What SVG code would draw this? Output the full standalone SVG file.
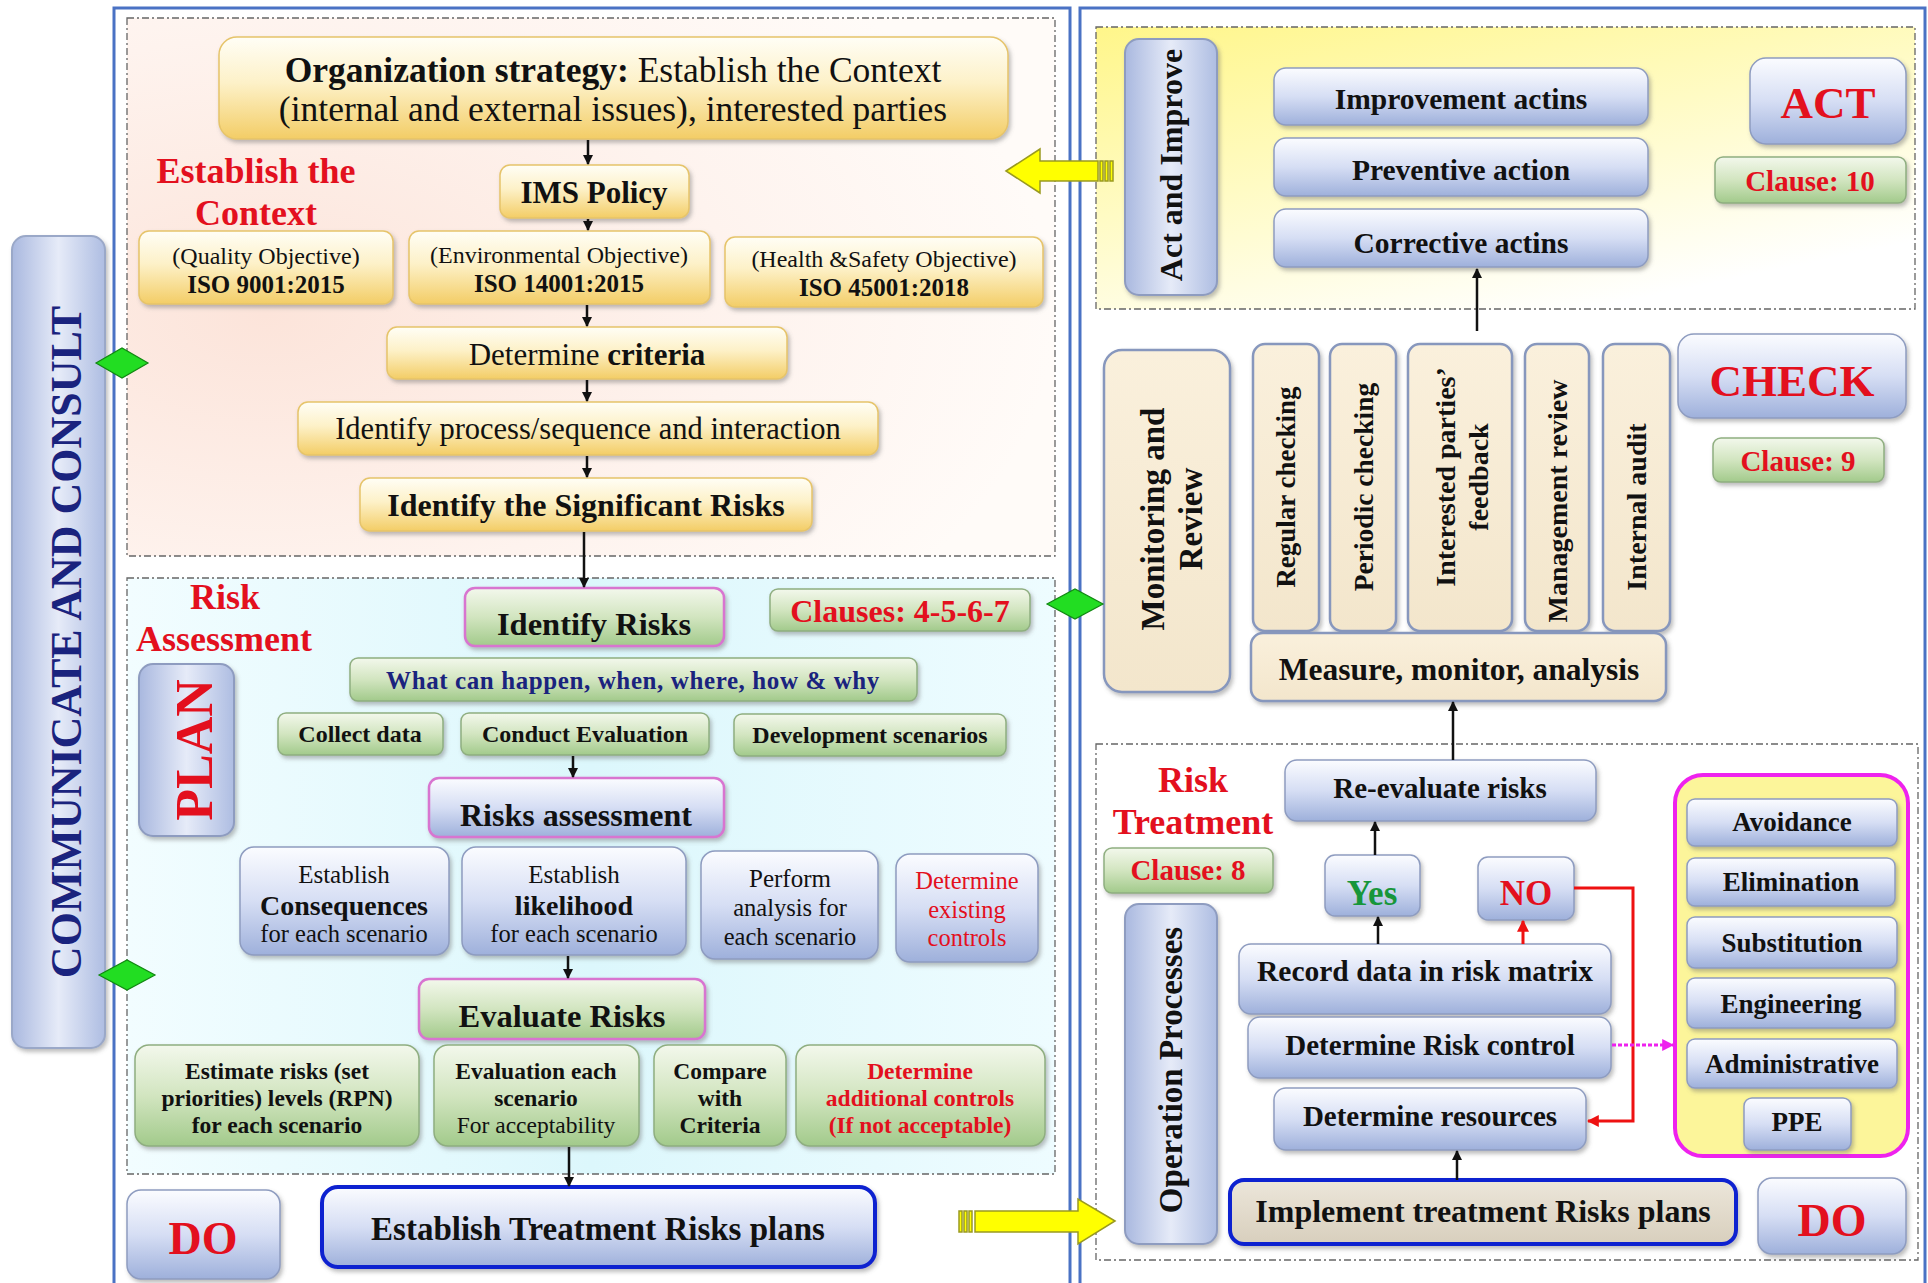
<svg xmlns="http://www.w3.org/2000/svg" width="1928" height="1283" viewBox="0 0 1928 1283">
<defs>
<style>
text{font-family:"Liberation Serif","Times New Roman",serif;text-anchor:middle;dominant-baseline:central;fill:#111;}
.b{font-weight:bold}
.red{fill:#e3101e}
.navy{fill:#1a237e}
.grn{fill:#17963a}
.yb{fill:url(#gY);stroke:#e6c46a;stroke-width:1.5;filter:url(#sh)}
.gb{fill:url(#gG);stroke:#8fae80;stroke-width:1.5;filter:url(#sh)}
.bb{fill:url(#gB);stroke:#8e9cc0;stroke-width:1.5;filter:url(#sh)}
.cb{fill:url(#gC);stroke:#8797bd;stroke-width:2.5;filter:url(#sh)}
.mag{stroke:#d874d0;stroke-width:2.5}
.thick{stroke:#1020d0;stroke-width:4}
.dash{fill:none;stroke:#666;stroke-width:1.3;stroke-dasharray:7 3 2 3}
.conn{stroke:#111;stroke-width:2.5;fill:none;marker-end:url(#ah)}
.rconn{stroke:#ee1111;stroke-width:3;fill:none;marker-end:url(#ahr)}
.yarrow{fill:#ffff00;stroke:#9a9a20;stroke-width:1.5}
</style>
<filter id="sh" x="-10%" y="-10%" width="125%" height="135%">
<feDropShadow dx="2" dy="3" stdDeviation="2" flood-color="#6a6a6a" flood-opacity="0.45"/>
</filter>
<linearGradient id="gY" x1="0" y1="0" x2="0" y2="1">
<stop offset="0" stop-color="#fffef6"/><stop offset="0.45" stop-color="#fdf1c8"/><stop offset="1" stop-color="#f3cd66"/>
</linearGradient>
<linearGradient id="gG" x1="0" y1="0" x2="0" y2="1">
<stop offset="0" stop-color="#f3f8ec"/><stop offset="0.5" stop-color="#d2e5c0"/><stop offset="1" stop-color="#a2ca8b"/>
</linearGradient>
<linearGradient id="gB" x1="0" y1="0" x2="0" y2="1">
<stop offset="0" stop-color="#fbfcff"/><stop offset="0.5" stop-color="#d6def4"/><stop offset="1" stop-color="#9eb0db"/>
</linearGradient>
<linearGradient id="gBh" x1="0" y1="0" x2="1" y2="0">
<stop offset="0" stop-color="#a9b8df"/><stop offset="0.5" stop-color="#e6ebf8"/><stop offset="1" stop-color="#aebde2"/>
</linearGradient>
<linearGradient id="gC" x1="0" y1="0" x2="0" y2="1">
<stop offset="0" stop-color="#faf0dc"/><stop offset="1" stop-color="#f3e6cc"/>
</linearGradient>
<linearGradient id="gT" x1="0" y1="0" x2="0" y2="1">
<stop offset="0" stop-color="#ece6da"/><stop offset="1" stop-color="#d8cfbd"/>
</linearGradient>
<radialGradient id="gPeach" cx="0.15" cy="0.55" r="0.85">
<stop offset="0" stop-color="#fce4da"/><stop offset="0.6" stop-color="#fef3ee"/><stop offset="1" stop-color="#fffbf8"/>
</radialGradient>
<linearGradient id="gCyan" x1="0" y1="0" x2="1" y2="0">
<stop offset="0" stop-color="#f2fdff"/><stop offset="0.5" stop-color="#dcf7fc"/><stop offset="1" stop-color="#eefcff"/>
</linearGradient>
<linearGradient id="gAct" x1="0" y1="0" x2="0.6" y2="1">
<stop offset="0" stop-color="#fff68a"/><stop offset="0.5" stop-color="#fffbc4"/><stop offset="1" stop-color="#ffffff"/>
</linearGradient>
<marker id="ah" viewBox="0 0 10 10" refX="9" refY="5" markerWidth="4" markerHeight="4" orient="auto">
<path d="M0,0 L10,5 L0,10 z" fill="#111"/>
</marker>
<marker id="ahr" viewBox="0 0 10 10" refX="9" refY="5" markerWidth="4" markerHeight="4" orient="auto">
<path d="M0,0 L10,5 L0,10 z" fill="#ee1111"/>
</marker>
<marker id="ahm" viewBox="0 0 10 10" refX="9" refY="5" markerWidth="4" markerHeight="4" orient="auto">
<path d="M0,0 L10,5 L0,10 z" fill="#ee22ee"/>
</marker>
</defs>

<rect width="1928" height="1283" fill="#ffffff"/>

<!-- panels -->
<g id="panels">
<rect x="114" y="8" width="956" height="1290" fill="#ffffff" stroke="#4a72c4" stroke-width="3"/>
<rect x="1080" y="8" width="845" height="1290" fill="#ffffff" stroke="#4a72c4" stroke-width="3"/>
<rect x="127" y="18" width="928" height="538" fill="url(#gPeach)"/>
<rect x="127" y="18" width="928" height="538" class="dash"/>
<rect x="127" y="578" width="928" height="596" fill="url(#gCyan)"/>
<rect x="127" y="578" width="928" height="596" class="dash"/>
<rect x="1096" y="27" width="819" height="282" fill="url(#gAct)"/>
<rect x="1096" y="27" width="819" height="282" class="dash"/>
<rect x="1096" y="744" width="822" height="516" class="dash"/>
</g>

<!-- communicate -->
<g id="communicate">
<rect x="12" y="236" width="93" height="812" rx="14" fill="url(#gBh)" stroke="#9aa8c8" stroke-width="2" filter="url(#sh)"/>
<text class="b navy" font-size="44" transform="translate(66,642) rotate(-90)">COMMUNICATE AND CONSULT</text>
</g>

<!-- establish context -->
<g id="org">
<rect class="yb" x="219" y="37" width="789" height="102" rx="18"/>
<text font-size="35.5" x="613" y="70"><tspan class="b">Organization strategy:</tspan> Establish the Context</text>
<text font-size="35.5" x="613" y="109">(internal and external issues), interested parties</text>
</g>
<g id="ctx-label">
<text class="b red" font-size="36" x="256" y="171">Establish the</text>
<text class="b red" font-size="36" x="256" y="213">Context</text>
</g>
<g id="ims"><rect class="yb" x="500" y="165" width="189" height="53" rx="10"/><text class="b" font-size="31" x="594" y="192">IMS Policy</text></g>
<g id="quality"><rect class="yb" x="139" y="231" width="254" height="73" rx="10"/><text font-size="24" x="266" y="256">(Quality Objective)</text><text class="b" font-size="25" x="266" y="284">ISO 9001:2015</text></g>
<g id="env"><rect class="yb" x="409" y="231" width="301" height="73" rx="10"/><text font-size="24" x="559" y="255">(Environmental Objective)</text><text class="b" font-size="25" x="559" y="283">ISO 14001:2015</text></g>
<g id="hs"><rect class="yb" x="725" y="237" width="318" height="70" rx="10"/><text font-size="24" x="884" y="259">(Health &amp;Safety Objective)</text><text class="b" font-size="25" x="884" y="287">ISO 45001:2018</text></g>
<g id="criteria"><rect class="yb" x="387" y="327" width="400" height="52" rx="10"/><text font-size="31" x="587" y="354">Determine <tspan class="b">criteria</tspan></text></g>
<g id="process"><rect class="yb" x="298" y="402" width="580" height="53" rx="10"/><text font-size="30.5" x="588" y="429">Identify process/sequence and interaction</text></g>
<g id="significant"><rect class="yb" x="360" y="478" width="452" height="53" rx="10"/><text class="b" font-size="32" x="586" y="505">Identify the Significant Risks</text></g>

<!-- risk assessment -->
<g id="ra-label">
<text class="b red" font-size="36" x="225" y="597">Risk</text>
<text class="b red" font-size="36" x="224" y="639">Assessment</text>
</g>
<g id="plan"><rect x="139" y="664" width="95" height="172" rx="14" fill="url(#gBh)" stroke="#8e9cc0" stroke-width="2" filter="url(#sh)"/><text class="b red" font-size="52" transform="translate(194,750) rotate(-90)">PLAN</text></g>
<g id="identify-risks"><rect class="gb mag" x="465" y="588" width="259" height="58" rx="10"/><text class="b" font-size="32.5" x="594" y="624">Identify Risks</text></g>
<g id="clauses47"><rect class="gb" x="770" y="589" width="260" height="42" rx="8"/><text class="b red" font-size="32" x="900" y="611">Clauses: 4-5-6-7</text></g>
<g id="what"><rect class="gb" x="350" y="658" width="567" height="43" rx="8"/><text class="b navy" font-size="25" letter-spacing="0.6" x="633" y="680">What can happen, when, where, how &amp; why</text></g>
<g id="collect"><rect class="gb" x="278" y="713" width="165" height="42" rx="8"/><text class="b" font-size="24" x="360" y="734">Collect data</text></g>
<g id="conduct"><rect class="gb" x="461" y="713" width="248" height="42" rx="8"/><text class="b" font-size="24" x="585" y="734">Conduct Evaluation</text></g>
<g id="development"><rect class="gb" x="734" y="714" width="272" height="42" rx="8"/><text class="b" font-size="24" x="870" y="735">Development scenarios</text></g>
<g id="risks-assessment"><rect class="bb mag" x="429" y="778" width="295" height="59" rx="10"/><text class="b" font-size="32" x="576" y="815">Risks assessment</text></g>
<g id="consequences"><rect class="bb" x="240" y="847" width="209" height="108" rx="14"/><text font-size="25" x="344" y="874">Establish</text><text class="b" font-size="28" x="344" y="905">Consequences</text><text font-size="24.5" x="344" y="933">for each scenario</text></g>
<g id="likelihood"><rect class="bb" x="462" y="847" width="224" height="108" rx="14"/><text font-size="25" x="574" y="874">Establish</text><text class="b" font-size="28" x="574" y="905">likelihood</text><text font-size="24.5" x="574" y="933">for each scenario</text></g>
<g id="perform"><rect class="bb" x="701" y="851" width="177" height="108" rx="14"/><text font-size="25" x="790" y="878">Perform</text><text font-size="24.5" x="790" y="907">analysis for</text><text font-size="24.5" x="790" y="936">each scenario</text></g>
<g id="existing"><rect class="bb" x="896" y="854" width="142" height="108" rx="14"/><text class="red" font-size="24.5" x="967" y="880">Determine</text><text class="red" font-size="24.5" x="967" y="909">existing</text><text class="red" font-size="24.5" x="967" y="937">controls</text></g>
<g id="evaluate"><rect class="gb mag" x="419" y="979" width="286" height="60" rx="10"/><text class="b" font-size="32.5" x="562" y="1016">Evaluate Risks</text></g>
<g id="estimate"><rect class="gb" x="135" y="1045" width="284" height="101" rx="14"/><text class="b" font-size="23.5" x="277" y="1071">Estimate risks (set</text><text class="b" font-size="23.5" x="277" y="1098">priorities) levels (RPN)</text><text class="b" font-size="23.5" x="277" y="1125">for each scenario</text></g>
<g id="evaluation"><rect class="gb" x="434" y="1045" width="205" height="101" rx="14"/><text class="b" font-size="23.5" x="536" y="1071">Evaluation each</text><text class="b" font-size="23.5" x="536" y="1098">scenario</text><text font-size="23.5" x="536" y="1125">For acceptability</text></g>
<g id="compare"><rect class="gb" x="654" y="1045" width="132" height="101" rx="14"/><text class="b" font-size="23.5" x="720" y="1071">Compare</text><text class="b" font-size="23.5" x="720" y="1098">with</text><text class="b" font-size="23.5" x="720" y="1125">Criteria</text></g>
<g id="additional"><rect class="gb" x="796" y="1045" width="249" height="101" rx="14"/><text class="b red" font-size="23.5" x="920" y="1071">Determine</text><text class="b red" font-size="23.5" x="920" y="1098">additional controls</text><text class="b red" font-size="23.5" x="920" y="1125">(If not acceptable)</text></g>
<g id="do-left"><rect class="bb" x="127" y="1190" width="153" height="89" rx="14"/><text class="b red" font-size="46" x="203" y="1238">DO</text></g>
<g id="establish-treatment"><rect class="bb thick" x="322" y="1187" width="553" height="80" rx="16"/><text class="b" font-size="33" x="598" y="1229">Establish Treatment Risks plans</text></g>

<!-- ACT -->
<g id="act-improve"><rect x="1125" y="39" width="92" height="256" rx="14" fill="url(#gBh)" stroke="#8e9cc0" stroke-width="2" filter="url(#sh)"/><text class="b" font-size="32" transform="translate(1171,165) rotate(-90)">Act and Improve</text></g>
<g id="improvement"><rect class="bb" x="1274" y="68" width="374" height="57" rx="12"/><text class="b" font-size="29.5" x="1461" y="99">Improvement actins</text></g>
<g id="preventive"><rect class="bb" x="1274" y="138" width="374" height="58" rx="12"/><text class="b" font-size="29.5" x="1461" y="170">Preventive action</text></g>
<g id="corrective"><rect class="bb" x="1274" y="209" width="374" height="58" rx="12"/><text class="b" font-size="29.5" x="1461" y="243">Corrective actins</text></g>
<g id="act"><rect class="bb" x="1750" y="58" width="156" height="86" rx="16" stroke-width="3"/><text class="b red" font-size="45" x="1828" y="103">ACT</text></g>
<g id="clause10"><rect class="gb" x="1715" y="157" width="191" height="46" rx="8"/><text class="b red" font-size="29" x="1810" y="181">Clause: 10</text></g>

<!-- CHECK -->
<g id="monitoring"><rect class="cb" x="1104" y="350" width="126" height="342" rx="18"/><text class="b" font-size="33" transform="translate(1153,519) rotate(-90)">Monitoring and</text><text class="b" font-size="33" transform="translate(1191,519) rotate(-90)">Review</text></g>
<g id="regular"><rect class="cb" x="1253" y="344" width="66" height="287" rx="12" stroke-width="1.5"/><text class="b" font-size="27" transform="translate(1286,487) rotate(-90)">Regular checking</text></g>
<g id="periodic"><rect class="cb" x="1330" y="344" width="66" height="287" rx="12" stroke-width="1.5"/><text class="b" font-size="27.5" transform="translate(1363,487) rotate(-90)">Periodic checking</text></g>
<g id="interested"><rect class="cb" x="1408" y="344" width="104" height="287" rx="12" stroke-width="1.5"/><text class="b" font-size="28" transform="translate(1445,477) rotate(-90)">Interested parties’</text><text class="b" font-size="28" transform="translate(1478,477) rotate(-90)">feedback</text></g>
<g id="management"><rect class="cb" x="1525" y="344" width="64" height="287" rx="12" stroke-width="1.5"/><text class="b" font-size="28" transform="translate(1557,501) rotate(-90)">Management review</text></g>
<g id="audit"><rect class="cb" x="1603" y="344" width="67" height="287" rx="12" stroke-width="1.5"/><text class="b" font-size="28" transform="translate(1636,507) rotate(-90)">Internal audit</text></g>
<g id="measure"><rect class="cb" x="1251" y="633" width="415" height="68" rx="12" stroke-width="1.5"/><text class="b" font-size="31.5" x="1459" y="669">Measure, monitor, analysis</text></g>
<g id="check"><rect class="bb" x="1678" y="334" width="228" height="84" rx="16" stroke-width="3"/><text class="b red" font-size="45" x="1792" y="381">CHECK</text></g>
<g id="clause9"><rect class="gb" x="1713" y="438" width="171" height="44" rx="8"/><text class="b red" font-size="29" x="1798" y="461">Clause: 9</text></g>

<!-- Risk treatment -->
<g id="rt-label">
<text class="b red" font-size="36" x="1193" y="780">Risk</text>
<text class="b red" font-size="36" x="1193" y="822">Treatment</text>
</g>
<g id="clause8"><rect class="gb" x="1104" y="848" width="169" height="45" rx="8"/><text class="b red" font-size="29" x="1188" y="870">Clause: 8</text></g>
<g id="operation"><rect x="1125" y="904" width="92" height="340" rx="14" fill="url(#gBh)" stroke="#8e9cc0" stroke-width="2" filter="url(#sh)"/><text class="b" font-size="33" transform="translate(1171,1070) rotate(-90)">Operation Processes</text></g>
<g id="reevaluate"><rect class="bb" x="1285" y="760" width="311" height="61" rx="12"/><text class="b" font-size="29" x="1440" y="788">Re-evaluate risks</text></g>
<g id="yes"><rect class="bb" x="1325" y="855" width="95" height="61" rx="10"/><text class="b grn" font-size="35" x="1372" y="893">Yes</text></g>
<g id="no"><rect class="bb" x="1478" y="857" width="96" height="63" rx="10"/><text class="b red" font-size="35" x="1526" y="893">NO</text></g>
<g id="record"><rect class="bb" x="1239" y="944" width="372" height="70" rx="12"/><text class="b" font-size="29.5" x="1425" y="971">Record data in risk matrix</text></g>
<g id="risk-control"><rect class="bb" x="1248" y="1017" width="363" height="61" rx="12" stroke="#e020e0" stroke-width="2.5"/><text class="b" font-size="29" x="1430" y="1045">Determine Risk control</text></g>
<g id="resources"><rect class="bb" x="1274" y="1088" width="312" height="62" rx="12"/><text class="b" font-size="29" x="1430" y="1116">Determine resources</text></g>
<g id="implement"><rect x="1230" y="1180" width="506" height="64" rx="14" fill="url(#gT)" class="thick" filter="url(#sh)"/><text class="b" font-size="32" x="1483" y="1211">Implement treatment Risks plans</text></g>
<g id="do-right"><rect class="bb" x="1758" y="1178" width="148" height="76" rx="14"/><text class="b red" font-size="46" x="1832" y="1220">DO</text></g>
<g id="controls">
<rect x="1675" y="775" width="233" height="381" rx="28" fill="#fcf59a" stroke="#ee22ee" stroke-width="4"/>
<rect class="bb" x="1687" y="799" width="210" height="47" rx="8"/><text class="b" font-size="27" x="1792" y="822">Avoidance</text>
<rect class="bb" x="1687" y="858" width="208" height="48" rx="8"/><text class="b" font-size="27" x="1791" y="882">Elimination</text>
<rect class="bb" x="1687" y="917" width="210" height="51" rx="8"/><text class="b" font-size="27" x="1792" y="943">Substitution</text>
<rect class="bb" x="1687" y="978" width="208" height="50" rx="8"/><text class="b" font-size="27" x="1791" y="1004">Engineering</text>
<rect class="bb" x="1687" y="1039" width="210" height="49" rx="8"/><text class="b" font-size="27" x="1792" y="1064">Administrative</text>
<rect class="bb" x="1744" y="1098" width="107" height="52" rx="8"/><text class="b" font-size="27" x="1797" y="1122">PPE</text>
</g>

<!-- connectors -->
<g id="connectors">
<path class="conn" d="M588,140 V164"/>
<path class="conn" d="M588,219 V230"/>
<path class="conn" d="M587,305 V326"/>
<path class="conn" d="M587,380 V401"/>
<path class="conn" d="M587,456 V477"/>
<path class="conn" d="M584,532 V587"/>
<path class="conn" d="M573,756 V777"/>
<path class="conn" d="M568,956 V978"/>
<path class="conn" d="M569,1147 V1186"/>
<path class="conn" d="M1477,331 V269"/>
<path class="conn" d="M1453,760 V702"/>
<path class="conn" d="M1375,855 V822"/>
<path class="conn" d="M1378,944 V917"/>
<path class="rconn" d="M1523,944 V921"/>
<path class="rconn" d="M1574,888 H1633 V1121 H1588"/>
<path d="M1612,1045 H1673" stroke="#ee22ee" stroke-width="3" stroke-dasharray="4 2" fill="none" marker-end="url(#ahm)"/>
<path class="conn" d="M1457,1180 V1151"/>
<!-- yellow block arrows -->
<path class="yarrow" d="M1006,171 L1040,149 L1040,161 L1098,161 L1098,181 L1040,181 L1040,193 Z"/>
<rect class="yarrow" x="1100" y="161" width="3" height="20"/>
<rect class="yarrow" x="1105" y="161" width="3" height="20"/>
<rect class="yarrow" x="1110" y="161" width="3" height="20"/>
<path class="yarrow" d="M1115,1221 L1078,1199 L1078,1211 L975,1211 L975,1232 L1078,1232 L1078,1244 Z"/>
<rect class="yarrow" x="959" y="1211" width="3" height="21"/>
<rect class="yarrow" x="964" y="1211" width="3" height="21"/>
<rect class="yarrow" x="969" y="1211" width="3" height="21"/>
<!-- diamonds -->
<path d="M96,363 L122,348 L148,363 L122,378 Z" fill="#22dd22" stroke="#118811" stroke-width="1.2"/>
<path d="M99,975 L127,960 L155,975 L127,990 Z" fill="#22dd22" stroke="#118811" stroke-width="1.2"/>
<path d="M1047,604 L1075,589 L1103,604 L1075,619 Z" fill="#22dd22" stroke="#118811" stroke-width="1.2"/>
</g>
</svg>
